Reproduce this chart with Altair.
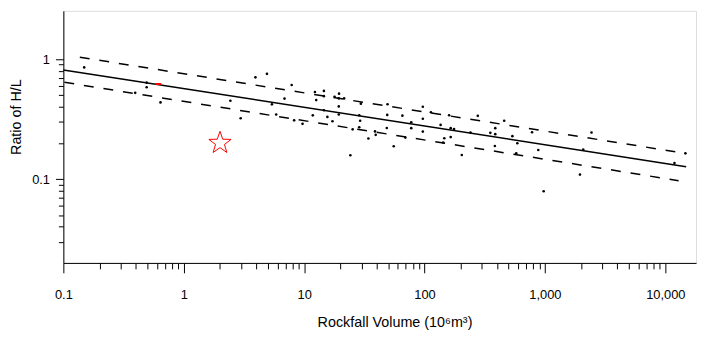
import altair as alt
import pandas as pd

# --- data ---
volume = [0.149, 0.395, 0.492, 0.492, 0.641, 2.44, 2.97, 3.94, 4.91, 5.40, 5.86, 6.87, 7.88, 8.26, 9.70,
          11.8, 12.3, 12.6, 14.6, 14.6, 14.6, 15.6, 17.2, 17.9, 19.5, 19.4, 21.5, 19.4, 19.4, 29.6,
          28.7, 29.2, 28.7, 25.3, 34.2, 38.8, 39.3, 24.2, 49.3, 49.0, 48.6, 55.5, 65.5, 69.3, 77.6,
          77.6, 96.8, 96.8, 96.8, 113, 136, 146, 143, 160, 165, 176, 165, 204, 241, 277,
          459, 352, 387, 387, 537, 590, 782, 384, 578, 881, 977, 2438, 2083, 1955, 11920, 14690]
ratio = [0.854, 0.524, 0.638, 0.583, 0.436, 0.450, 0.322, 0.706, 0.755, 0.420, 0.346, 0.469, 0.609, 0.309, 0.289,
         0.340, 0.533, 0.456, 0.544, 0.492, 0.375, 0.330, 0.304, 0.485, 0.516, 0.471, 0.471, 0.404, 0.346, 0.426,
         0.341, 0.307, 0.271, 0.260, 0.218, 0.250, 0.234, 0.158, 0.421, 0.343, 0.267, 0.188, 0.338, 0.222, 0.298,
         0.266, 0.401, 0.319, 0.249, 0.361, 0.283, 0.219, 0.202, 0.341, 0.266, 0.262, 0.224, 0.159, 0.245, 0.337,
         0.307, 0.243, 0.266, 0.237, 0.228, 0.199, 0.246, 0.189, 0.164, 0.175, 0.0791, 0.245, 0.176, 0.109, 0.136, 0.164]

fit_x = [0.1, 14900]
fit_y = [0.814, 0.127]
upper_x = [0.137, 12100]
upper_y = [1.039, 0.169]
lower_x = [0.102, 12900]
lower_y = [0.642, 0.097]

red_x = [0.614]
red_y = [0.621]
star_x = [2.0]
star_y = [0.2]

x_major = [0.1, 1, 10, 100, 1000, 10000]
x_minor = [m * 10 ** e for e in range(-1, 4) for m in range(2, 10)]
y_major = [0.1, 1]
y_minor = [m * 0.01 for m in range(3, 10)] + [m * 0.1 for m in range(2, 10)]

# --- tables ---
pts = pd.DataFrame({"x": volume, "y": ratio})
fit = pd.DataFrame({"x": fit_x, "y": fit_y})
upper = pd.DataFrame({"x": upper_x, "y": upper_y})
lower = pd.DataFrame({"x": lower_x, "y": lower_y})
red = pd.DataFrame({"x": red_x, "y": red_y})
star = pd.DataFrame({"x": star_x, "y": star_y})

FONT = "Liberation Sans"
xmaj_test = "indexof([0.1,1,10,100,1000,10000], datum.value) >= 0"
ymaj_test = "indexof([0.1,1], datum.value) >= 0"

STAR_PATH = ("M0,-1L0.235,-0.324L0.951,-0.309L0.38,0.124L0.588,0.809L0,0.4"
             "L-0.588,0.809L-0.38,0.124L-0.951,-0.309L-0.235,-0.324Z")

xscale = alt.Scale(type="log", domain=[0.1, 18000], nice=False)
yscale = alt.Scale(type="log", domain=[0.02, 2.53], nice=False)

xaxis = alt.Axis(
    orient="bottom",
    values=x_major + x_minor, format=",",
    labelExpr=f"{xmaj_test} ? datum.label : ''",
    tickSize={"condition": {"test": xmaj_test, "value": 10}, "value": 6},
    labelPadding=16, labelFlush=False, labelOverlap=False,
    grid=False, domainColor="black", tickColor="black", labelColor="black",
    labelFont=FONT, labelFontSize=13,
    title="Rockfall Volume (10⁶m³)", titleFont=FONT, titleFontSize=14.5,
    titleFontWeight="normal", titleColor="black",
    titleX=335, titleY=60, titleBaseline="middle",
)
yaxis = alt.Axis(
    orient="left",
    values=y_major + y_minor, format="~g",
    labelExpr=f"{ymaj_test} ? datum.label : ''",
    tickSize={"condition": {"test": ymaj_test, "value": 8}, "value": 5},
    labelPadding=6, labelOverlap=False,
    grid=False, domainColor="black", tickColor="black", labelColor="black",
    labelFont=FONT, labelFontSize=13,
    title="Ratio of H/L", titleFont=FONT, titleFontSize=14.5,
    titleFontWeight="normal", titleColor="black",
    titleX=-47, titleY=107, titleBaseline="middle",
)

X = alt.X("x:Q", scale=xscale, axis=xaxis)
Y = alt.Y("y:Q", scale=yscale, axis=yaxis)

dots = alt.Chart(pts).mark_point(filled=True, size=7, color="black", opacity=1).encode(x=X, y=Y)
fit_line = alt.Chart(fit).mark_line(color="black", strokeWidth=1.5).encode(x=X, y=Y)
up_line = alt.Chart(upper).mark_line(color="black", strokeWidth=1.5, strokeDash=[10, 10]).encode(x=X, y=Y)
lo_line = alt.Chart(lower).mark_line(color="black", strokeWidth=1.5, strokeDash=[10, 10]).encode(x=X, y=Y)
red_mark = alt.Chart(red).mark_point(shape="stroke", size=36, stroke="red", strokeWidth=2, filled=False, opacity=1).encode(x=X, y=Y)
star_mark = alt.Chart(star).mark_point(shape=STAR_PATH, size=560, stroke="red", strokeWidth=1, filled=False, opacity=1).encode(x=X, y=Y)

chart = alt.layer(dots, fit_line, up_line, lo_line, red_mark, star_mark).properties(
    width=640, height=255,
    autosize=alt.AutoSizeParams(type="none"),
    padding={"left": 56, "top": 1, "right": 2, "bottom": 68},
).configure_view(stroke="black", strokeWidth=1).configure(background="white")

chart.save("out.html", embed_options={"renderer": "svg", "actions": False})
